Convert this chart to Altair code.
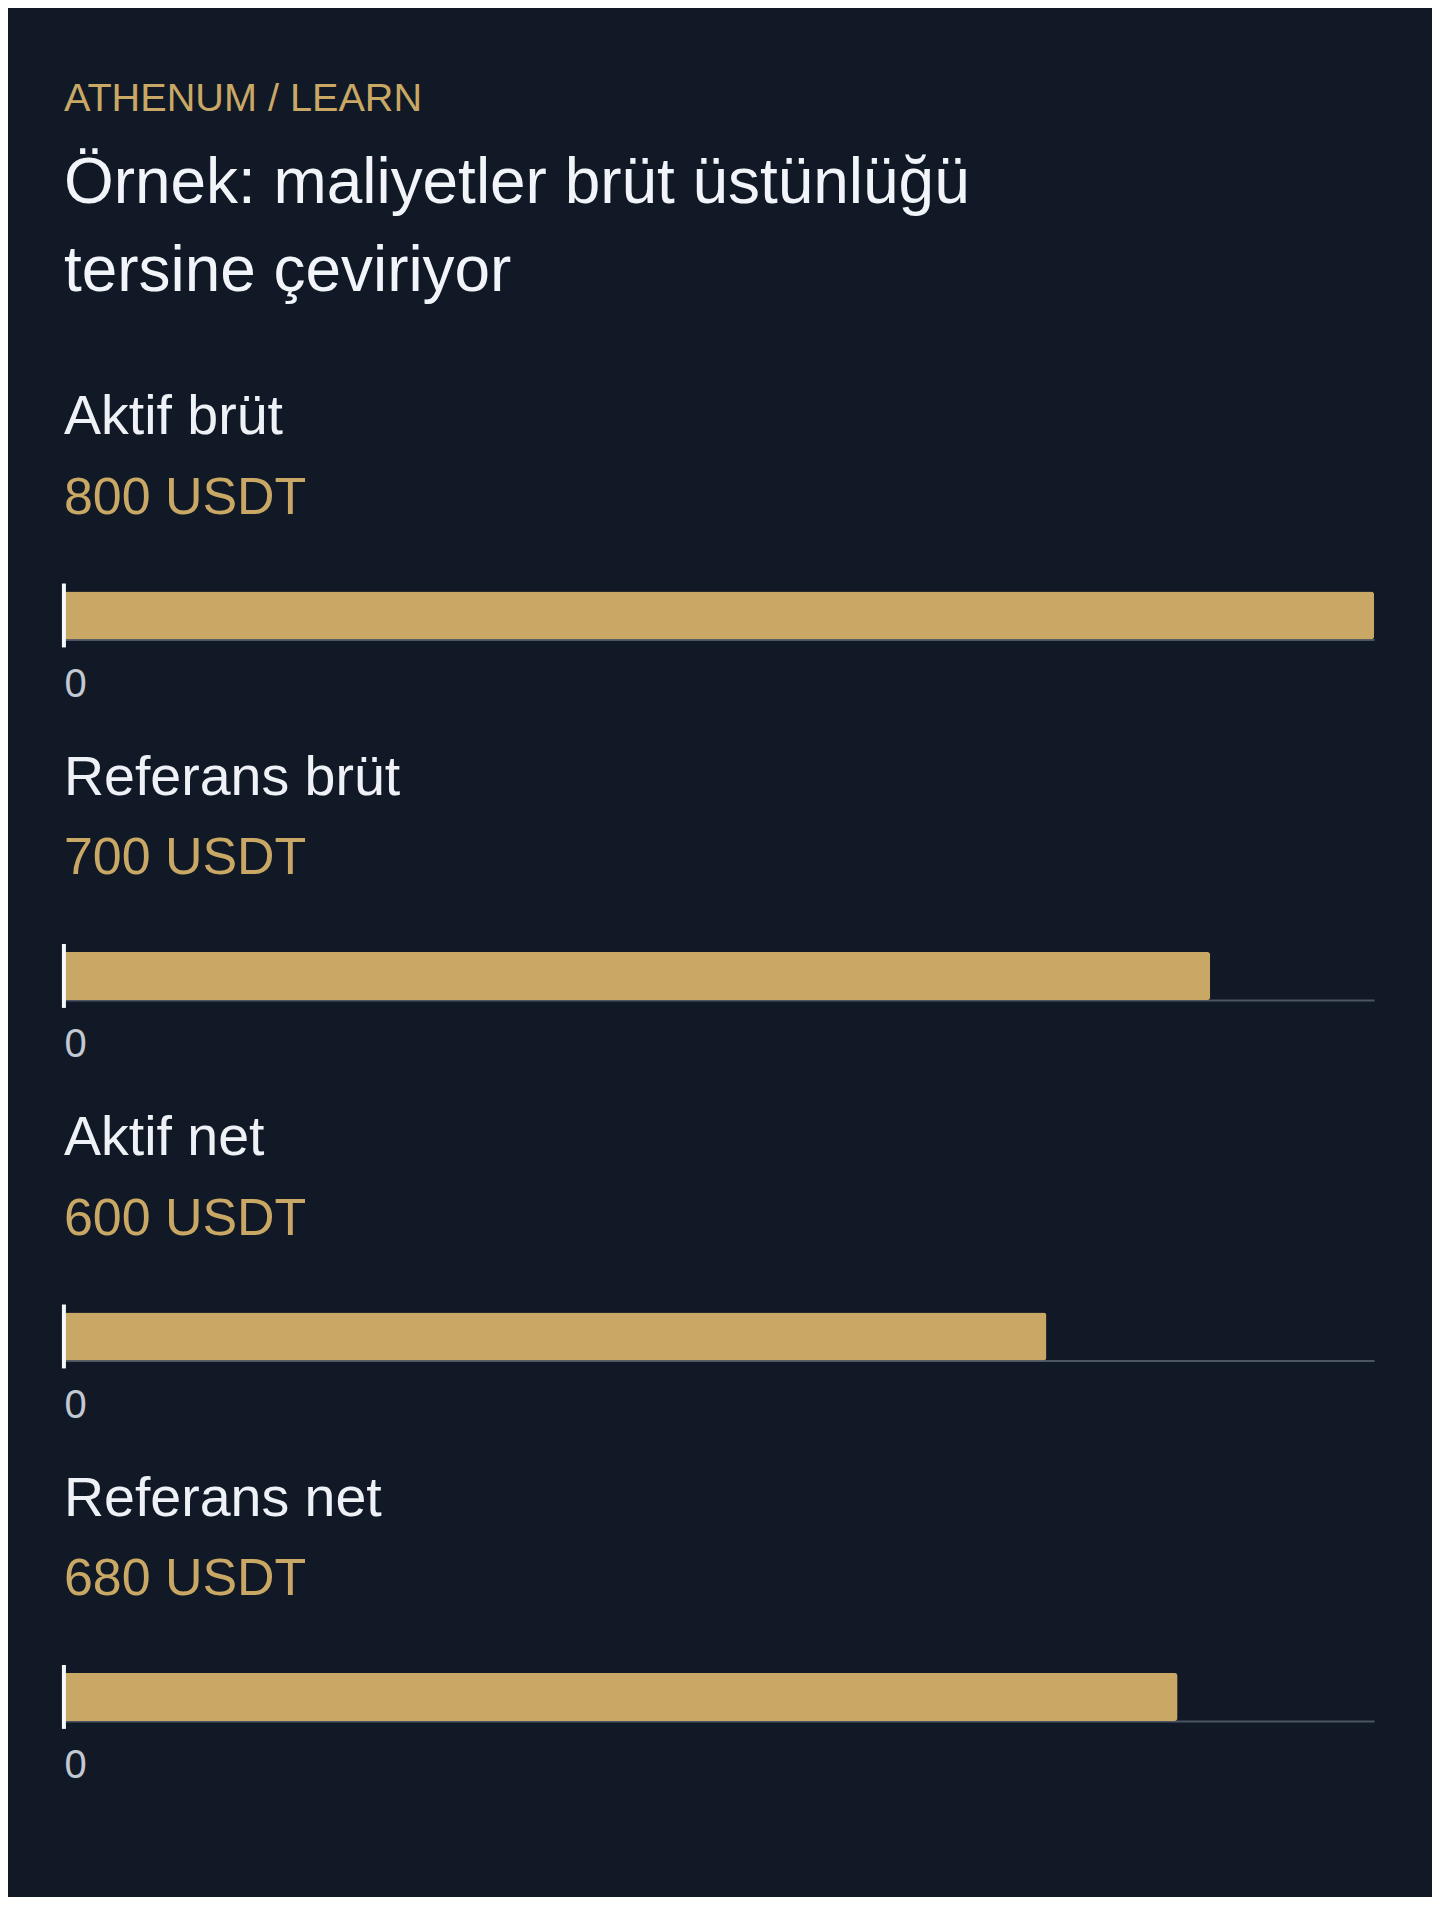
import altair as alt
import pandas as pd

# ---- data ----
kicker = "ATHENUM / LEARN"
title_lines = ["Örnek: maliyetler brüt üstünlüğü", "tersine çeviriyor"]
categories = ["Aktif brüt", "Referans brüt", "Aktif net", "Referans net"]
values = [800, 700, 600, 680]
unit = "USDT"
axis_ticks = [0]

# ---- style ----
BG = "#121926"
GOLD = "#c9a865"
WHITE = "#eef2f7"
AXIS_LABEL = "#c3c9d2"
DOMAIN = "#4b5563"
FONT = "Liberation Sans"

xmax = max(values)

panels = []
for cat, val in zip(categories, values):
    df = pd.DataFrame({"label": [cat], "value": [val]})
    base = alt.Chart(df)
    bar = base.mark_bar(size=48, color=GOLD, cornerRadiusEnd=3).encode(
        x=alt.X(
            "value:Q",
            scale=alt.Scale(domain=[0, xmax], nice=False),
            axis=alt.Axis(
                values=axis_ticks,
                format="d",
                title=None,
                grid=False,
                ticks=False,
                tickSize=0,
                labelFontSize=40,
                labelColor=AXIS_LABEL,
                labelFont=FONT,
                labelAlign="left",
                labelPadding=25,
                domainColor=DOMAIN,
                domainWidth=2,
                offset=-8,
            ),
        ),
        y=alt.Y("label:N", axis=None),
    )
    rule = base.mark_rule(color="#f5f7fa", strokeWidth=4).encode(x=alt.datum(0))
    panel = alt.layer(bar, rule).properties(
        width=1312,
        height=64,
        title=alt.TitleParams(
            text=cat,
            subtitle=f"{val} {unit}",
            anchor="start",
            frame="group",
            font=FONT,
            fontSize=55.6,
            fontWeight="normal",
            color=WHITE,
            subtitleFont=FONT,
            subtitleFontSize=52,
            subtitleColor=GOLD,
            subtitlePadding=27,
            offset=58,
        ),
    )
    panels.append(panel)

chart = (
    alt.vconcat(*panels, spacing=46)
    .properties(
        title=alt.TitleParams(
            text=kicker,
            subtitle=title_lines,
            anchor="start",
            frame="group",
            font=FONT,
            fontSize=39.7,
            fontWeight="normal",
            color=GOLD,
            subtitleFont=FONT,
            subtitleFontSize=64,
            subtitleColor="#f1f5f9",
            subtitleLineHeight=88,
            subtitlePadding=33,
            offset=85,
        ),
        padding={"left": 54, "right": 58, "top": 69, "bottom": 110},
        background=BG,
    )
    .configure_view(stroke=None)
    .configure_concat(spacing=46)
)

chart.save("out.html", embed_options={"renderer": "svg", "actions": False})
